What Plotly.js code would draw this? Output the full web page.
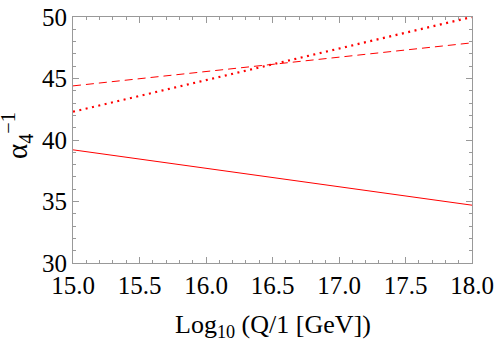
<!DOCTYPE html>
<html>
<head>
<meta charset="utf-8">
<script src="https://cdn.plot.ly/plotly-3.0.1.min.js"></script>
<style>
  html, body { margin: 0; padding: 0; background: #fff; }
  #chart { width: 498px; height: 341px; }
</style>
</head>
<body>
<div id="chart"></div>
<script>
// x = Log10(Q / 1 GeV), y = inverse coupling
const logQ = [15.0, 18.0];
const solidY = [39.2, 34.7];
const dashedY = [44.4, 47.9];
const dottedY = [42.3, 50.0];

const xTickVals = [15, 15.5, 16, 16.5, 17, 17.5, 18];
const xTickText = ['15.0', '15.5', '16.0', '16.5', '17.0', '17.5', '18.0'];
const yTickVals = [30, 35, 40, 45, 50];
const yTickText = ['30', '35', '40', '45', '50'];

const red = '#ff0000';
const serif = 'Liberation Serif';

const traces = [
  { x: logQ, y: solidY, mode: 'lines', showlegend: false, line: { color: red, width: 1 } },
  { x: logQ, y: dashedY, mode: 'lines', showlegend: false, line: { color: red, width: 1, dash: '8px,5px' } },
  { x: logQ, y: dottedY, mode: 'lines', showlegend: false, line: { color: red, width: 2.2, dash: '2px,4.5px' } }
];

const layout = {
  width: 498, height: 341,
  margin: { l: 73, r: 26, t: 17, b: 78 },
  annotations: [
    { x: 0.5, xref: 'paper', y: 0, yref: 'paper', yanchor: 'top', yshift: -45,
      text: 'Log<sub>10</sub> (Q/1 [GeV])', showarrow: false,
      font: { family: serif, size: 26, color: '#000' } },
    { x: 0, xref: 'paper', y: 0.5, yref: 'paper', xanchor: 'center', yanchor: 'middle',
      xshift: -56, yshift: 4, textangle: -90,
      text: 'α<sub>4</sub><sup>−1</sup>', showarrow: false,
      font: { family: serif, size: 29, color: '#000' } }
  ],
  xaxis: {
    range: [15, 18], tickvals: xTickVals, ticktext: xTickText,
    tickfont: { family: serif, size: 25, color: '#000' },
    showgrid: false, zeroline: false,
    showline: true, linecolor: '#999', linewidth: 1,
    mirror: 'ticks', ticks: 'inside', ticklen: 6, tickcolor: '#999',
    minor: { ticks: 'inside', dtick: 0.1, ticklen: 3, tickcolor: '#999' }
  },
  yaxis: {
    range: [30, 50], tickvals: yTickVals, ticktext: yTickText,
    tickfont: { family: serif, size: 25, color: '#000' },
    showgrid: false, zeroline: false,
    showline: true, linecolor: '#999', linewidth: 1,
    mirror: 'ticks', ticks: 'inside', ticklen: 6, tickcolor: '#999',
    minor: { ticks: 'inside', dtick: 1, ticklen: 3, tickcolor: '#999' }
  }
};

Plotly.newPlot('chart', traces, layout, { displayModeBar: false, staticPlot: true });
</script>
</body>
</html>
